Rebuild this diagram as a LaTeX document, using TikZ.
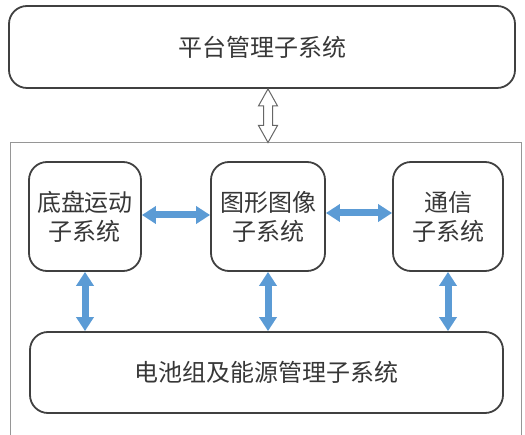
\documentclass[tikz,border=0pt]{standalone}
\usepackage{fontspec}
\newfontfamily\cjk{Noto Sans CJK SC}
\usetikzlibrary{arrows.meta, calc}
\definecolor{boxgray}{RGB}{64,64,64}
\definecolor{framegray}{RGB}{150,150,150}
\definecolor{linkblue}{RGB}{91,155,213}
\definecolor{textgray}{RGB}{55,55,55}

\begin{document}
\begin{tikzpicture}[x=1pt, y=-1pt,
  sys/.style={rectangle, draw=boxgray, line width=1.8pt, rounded corners=18pt, inner sep=0pt, align=center, text=textgray, font=\cjk\fontsize{24}{29}\selectfont},
  link/.style={linkblue, line width=7pt, {Triangle[length=14pt,width=17pt]}-{Triangle[length=14pt,width=17pt]}},
  hollow/.style={draw=boxgray!80, fill=white, line width=1pt, line join=miter}]

  \useasboundingbox (0,0) rectangle (525,435);

  \node[sys, minimum width=506pt, minimum height=82pt] (platform) at (262,47) {平台管理子系统};
  \node[sys, minimum width=112pt, minimum height=109pt] (chassis) at (85,216.5) {底盘运动\\子系统};
  \node[sys, minimum width=114pt, minimum height=109pt] (vision) at (268,216.5) {图形图像\\子系统};
  \node[sys, minimum width=110pt, minimum height=109pt] (comm) at (448,216.5) {通信\\子系统};
  \node[sys, minimum width=473pt, minimum height=81pt] (battery) at (266.5,372.5) {电池组及能源管理子系统};

  % outer frame, open at the bottom
  \coordinate (ftop) at (268,142.5);
  \draw[framegray, line width=0.8pt] (10,435) -- (10,142.5) -- (521,142.5) -- (521,435);

  % hollow double arrow
  \coordinate (htop) at (platform.south -| ftop);
  \draw[hollow] (htop) -- ++(9.5,17) -- ++(-5,0) -- ($(ftop)+(4.5,-17)$) -- ++(5,0) -- (ftop)
    -- ++(-9.5,-17) -- ++(5,0) -- ($(htop)+(-4.5,17)$) -- ++(-5,0) -- cycle;

  \draw[link] ([yshift=1.5pt]chassis.east) -- ([yshift=1.5pt]vision.west);
  \draw[link] ([yshift=3.5pt]vision.east) -- ([yshift=3.5pt]comm.west);
  \draw[link] (chassis.south) -- (chassis.south |- battery.north);
  \draw[link] (vision.south) -- (vision.south |- battery.north);
  \draw[link] (comm.south) -- (comm.south |- battery.north);
\end{tikzpicture}
\end{document}
